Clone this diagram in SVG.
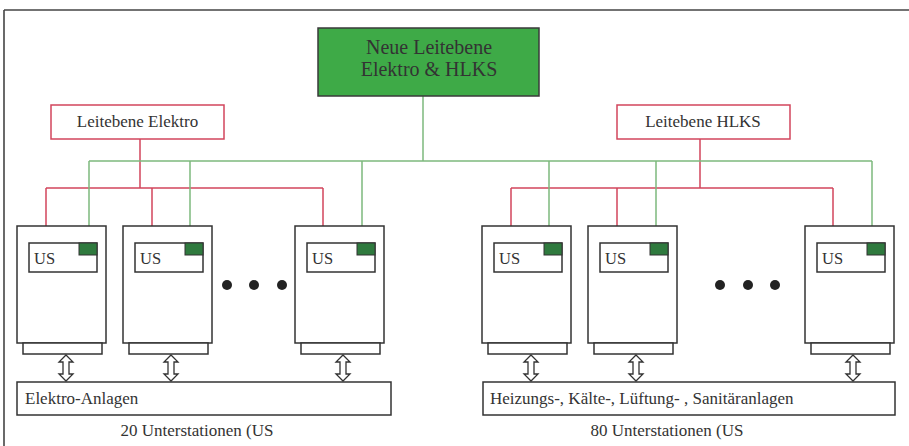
<svg xmlns="http://www.w3.org/2000/svg" width="909" height="446" viewBox="0 0 909 446">
<style>
text{font-family:"Liberation Serif","Times New Roman",serif;fill:#333}
.frame{stroke:#444;stroke-width:1.6;fill:none}
.st{fill:#fff;stroke:#333;stroke-width:1.5}
.us{fill:#fff;stroke:#333;stroke-width:1.5}
.sq{fill:#2f7a3e;stroke:#333;stroke-width:1}
.red{stroke:#d2455c;stroke-width:1.5;fill:none}
.grn{stroke:#7db97d;stroke-width:1.5;fill:none}
.lbl{font-size:17px}
.ust{font-size:16.5px}
.dot{fill:#222}
</style>
<defs>
<path id="arr" d="M0,0 L7,7 L3,7 L3,19 L7,19 L0,26 L-7,19 L-3,19 L-3,7 L-7,7 Z" fill="#fff" stroke="#333" stroke-width="1.3"/>
<g id="station">
<rect class="st" x="0" y="0" width="89" height="117"/>
<rect class="st" x="6" y="117" width="79" height="11"/>
<rect class="us" x="12" y="17" width="68" height="29"/>
<rect class="sq" x="62" y="17" width="18" height="12"/>
<text class="ust" x="17" y="38">US</text>
</g>
</defs>

<g id="frame">
<line class="frame" x1="4" y1="10" x2="909" y2="10"/>
<line class="frame" x1="4" y1="10" x2="4" y2="446"/>
</g>

<g id="connectors">
<path class="red" d="M140,139 V188 M46,188 H323 M46,188 V243 M152,188 V243 M323,188 V243"/>
<path class="red" d="M700,139 V188 M511,188 H833 M511,188 V243 M617,188 V243 M833,188 V243"/>
<path class="grn" d="M423,96 V161 M89,161 H872 M89,161 V243 M190,161 V243 M362,161 V243 M549,161 V243 M656,161 V243 M872,161 V243"/>
</g>

<g id="neue-leitebene">
<rect x="318" y="28" width="221" height="68" fill="#3eaa47" stroke="#3a3a3a" stroke-width="1.5"/>
<text x="429" y="54" text-anchor="middle" font-size="20">Neue Leitebene</text>
<text x="429" y="76" text-anchor="middle" font-size="20">Elektro &amp; HLKS</text>
</g>

<g id="leitebene-elektro">
<rect x="51" y="105" width="173" height="34" fill="#fff" stroke="#d2455c" stroke-width="1.5"/>
<text class="lbl" x="137.5" y="127" text-anchor="middle">Leitebene Elektro</text>
</g>

<g id="leitebene-hlks">
<rect x="617" y="105" width="173" height="34" fill="#fff" stroke="#d2455c" stroke-width="1.5"/>
<text class="lbl" x="703" y="127" text-anchor="middle">Leitebene HLKS</text>
</g>

<g id="us-e1"><use href="#station" x="17" y="226"/></g>
<g id="us-e2"><use href="#station" x="123" y="226"/></g>
<g id="us-e3"><use href="#station" x="295" y="226"/></g>
<g id="us-h1"><use href="#station" x="482" y="226"/></g>
<g id="us-h2"><use href="#station" x="588" y="226"/></g>
<g id="us-h3"><use href="#station" x="805" y="226"/></g>

<g id="dots">
<circle class="dot" cx="227" cy="285" r="5"/>
<circle class="dot" cx="254" cy="285" r="5"/>
<circle class="dot" cx="282" cy="285" r="5"/>
<circle class="dot" cx="720" cy="285" r="5"/>
<circle class="dot" cx="748" cy="285" r="5"/>
<circle class="dot" cx="775" cy="285" r="5"/>
</g>

<g id="arrows">
<use href="#arr" x="66" y="355"/>
<use href="#arr" x="171" y="355"/>
<use href="#arr" x="343" y="355"/>
<use href="#arr" x="531" y="355"/>
<use href="#arr" x="636" y="355"/>
<use href="#arr" x="853" y="355"/>
</g>

<g id="elektro-anlagen">
<rect x="17" y="382" width="374" height="33" fill="#fff" stroke="#333" stroke-width="1.5"/>
<text class="lbl" x="25" y="404">Elektro-Anlagen</text>
<text class="lbl" x="197" y="436" text-anchor="middle">20 Unterstationen (US</text>
</g>

<g id="hlks-anlagen">
<rect x="483" y="382" width="412" height="33" fill="#fff" stroke="#333" stroke-width="1.5"/>
<text class="lbl" x="490" y="404">Heizungs-, Kälte-, Lüftung- , Sanitäranlagen</text>
<text class="lbl" x="667" y="436" text-anchor="middle">80 Unterstationen (US</text>
</g>
</svg>
